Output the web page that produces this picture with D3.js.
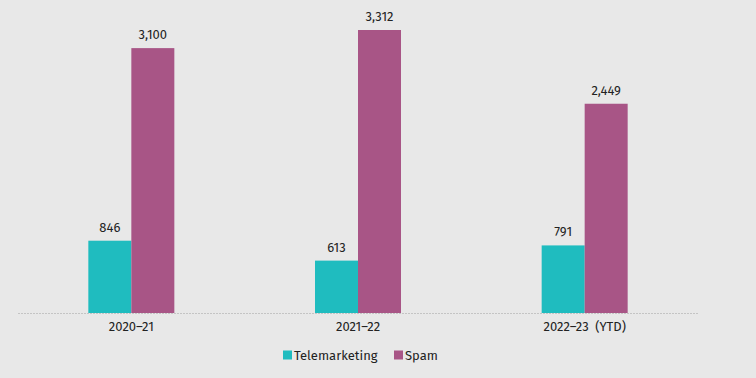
<!DOCTYPE html>
<html>
<head>
<meta charset="utf-8">
<script src="https://cdn.jsdelivr.net/npm/d3@7"></script>
<style>
body { margin: 0; padding: 0; background: #e8e8e8; }
</style>
</head>
<body>
<div id="main"></div>
<script>
const categories = ['2020–21', '2021–22', '2022–23\u2002(YTD)'];
const seriesNames = ['Telemarketing', 'Spam'];
const telemarketing = [846, 613, 791];
const spam = [3100, 3312, 2449];
const colours = ['#1fbcbf', '#a85586'];

const WIDTH = 756, HEIGHT = 378;
const BASE = 313;

const data = categories.map((c, i) => ({ cat: c, values: [telemarketing[i], spam[i]] }));

const svg = d3.select('#main').append('svg')
    .attr('width', WIDTH)
    .attr('height', HEIGHT)
    .style('display', 'block')
    .style('font-family', '"Fira Sans", "Noto Sans", sans-serif');

svg.append('rect').attr('width', WIDTH).attr('height', HEIGHT).attr('fill', '#e8e8e8');

const scaleX = d3.scaleBand().domain(categories).range([18, 698]);
const scaleY = d3.scaleLinear().domain([0, 3312]).range([BASE, 30]);
const BARW = 43;
const inner = d3.scaleBand().domain(seriesNames).range([0, BARW * 2]);

svg.append('line')
    .attr('x1', 18).attr('x2', 698)
    .attr('y1', BASE + 0.5).attr('y2', BASE + 0.5)
    .attr('stroke', '#c4c4c4')
    .attr('stroke-dasharray', '2,1');

const groups = svg.selectAll('g.grp').data(data).enter().append('g')
    .attr('class', 'grp')
    .attr('transform', d => `translate(${scaleX(d.cat) + scaleX.bandwidth() / 2 - BARW}, 0)`);

groups.selectAll('rect').data(d => d.values.map((v, j) => ({ v, s: seriesNames[j], j })))
    .enter().append('rect')
    .attr('x', d => inner(d.s))
    .attr('width', inner.bandwidth())
    .attr('y', d => scaleY(d.v))
    .attr('height', d => BASE - scaleY(d.v))
    .attr('fill', d => colours[d.j]);

groups.selectAll('text.val').data(d => d.values.map((v, j) => ({ v, s: seriesNames[j] })))
    .enter().append('text')
    .attr('class', 'val')
    .attr('x', d => inner(d.s) + inner.bandwidth() / 2)
    .attr('y', d => scaleY(d.v) - 9)
    .attr('text-anchor', 'middle')
    .attr('font-size', 13)
    .attr('font-weight', 400)
    .attr('fill', '#222')
    .text(d => d3.format(',')(d.v));

const axisX = d3.axisBottom(scaleX).tickSize(0).tickPadding(9);
const ax = svg.append('g').attr('transform', `translate(0, ${BASE})`).call(axisX);
ax.select('.domain').remove();
ax.selectAll('text').attr('font-size', 13).attr('font-weight', 400).attr('fill', '#222')
    .style('font-family', '"Fira Sans", "Noto Sans", sans-serif');

const legend = svg.append('g').attr('transform', 'translate(283, 355)');
const items = legend.selectAll('g').data(seriesNames).enter().append('g')
    .attr('transform', (d, i) => `translate(${i * 111}, 0)`);
items.append('rect').attr('x', 0).attr('y', -4.5).attr('width', 9).attr('height', 9)
    .attr('fill', (d, i) => colours[i]);
items.append('text').attr('x', 11).attr('y', 0).attr('dy', '0.35em')
    .attr('font-size', 13).attr('font-weight', 400).attr('fill', '#222').text(d => d);
</script>
</body>
</html>
